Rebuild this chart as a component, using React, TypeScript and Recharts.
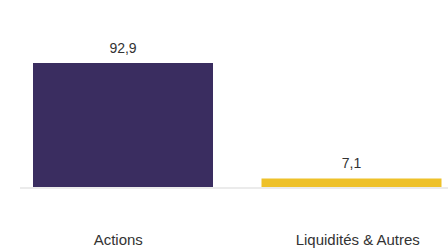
import React from 'react';
import { BarChart, Bar, XAxis, YAxis, Cell, LabelList } from 'recharts';

const categories = ['Actions', 'Liquidités & Autres'];
const values = [92.9, 7.1];
const colors = ['#3a2d60', '#eec12a'];

const data = categories.map((name, i) => ({ name, value: values[i] }));

const fmt = (v: number) => v.toFixed(1).replace('.', ',');

const tickOffsets: Record<string, number> = { 'Actions': -5, 'Liquidités & Autres': 6 };

const CatTick = (props: any) => {
  const { x, y, payload } = props;
  return (
    <text
      x={x + (tickOffsets[payload.value] || 0)}
      y={y}
      dy="0.71em"
      textAnchor="middle"
      fill="#333333"
      fontSize={15}
      fontFamily="'Liberation Sans', Arial, sans-serif"
    >
      {payload.value}
    </text>
  );
};

export default function App() {
  return (
    <div style={{ position: 'absolute', left: 0, top: 0, width: 448, height: 248, overflow: 'hidden', background: '#fff' }}>
      <BarChart
        width={448}
        height={248}
        data={data}
        margin={{ top: 53.5, right: 0, bottom: 0, left: 20 }}
        barCategoryGap={24}
      >
        <XAxis
          dataKey="name"
          height={60}
          padding={{ left: -11, right: -18 }}
          axisLine={{ stroke: '#ebebeb', strokeWidth: 2 }}
          tickLine={false}
          tickMargin={40}
          tick={<CatTick />}
          interval={0}
        />
        <YAxis hide domain={[0, 100]} />
        <Bar dataKey="value" isAnimationActive={false} barSize={180}>
          {data.map((d, i) => (
            <Cell key={d.name} fill={colors[i]} />
          ))}
          <LabelList
            dataKey="value"
            position="top"
            offset={10}
            formatter={(v: any) => fmt(Number(v))}
            fill="#333333"
            fontSize={14}
            fontFamily="'Liberation Sans', Arial, sans-serif"
          />
        </Bar>
      </BarChart>
    </div>
  );
}
